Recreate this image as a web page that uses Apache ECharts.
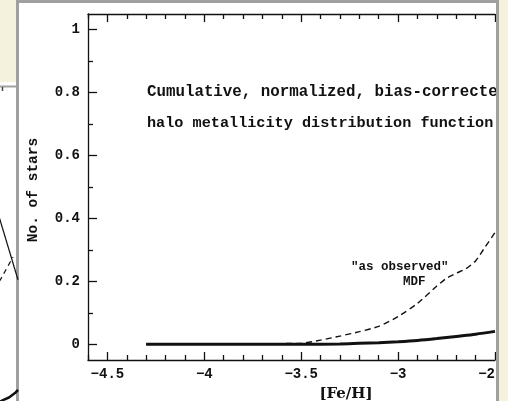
<!DOCTYPE html>
<html>
<head>
<meta charset="utf-8">
<script src="https://cdn.jsdelivr.net/npm/echarts@6/dist/echarts.min.js"></script>
<style>
  html, body { margin: 0; padding: 0; background: #f4f1dc; }
  #chart { width: 508px; height: 401px; }
</style>
</head>
<body>
<div id="chart"></div>
<script>
// Cumulative, normalized, bias-corrected halo MDF (thick solid curve)
const feHCorrected = [-4.3, -4.0, -3.7, -3.5, -3.3, -3.2, -3.1, -3.0, -2.9, -2.8, -2.7, -2.6, -2.5];
const cumCorrected = [0, 0, 0, 0, 0.001, 0.003, 0.005, 0.008, 0.012, 0.018, 0.025, 0.032, 0.041];

// "as observed" MDF (dashed curve)
const feHObserved = [-4.3, -3.5, -3.4, -3.3, -3.2, -3.1, -3.0, -2.9, -2.8, -2.75, -2.7, -2.65, -2.6, -2.55, -2.5];
const cumObserved = [0, 0.003, 0.013, 0.026, 0.04, 0.057, 0.088, 0.13, 0.185, 0.21, 0.226, 0.24, 0.265, 0.31, 0.355];

// Axis ticks
const xMajorTicks = [-4.5, -4, -3.5, -3, -2.5];
const xMinorTicks = [-4.6, -4.4, -4.3, -4.2, -4.1, -3.9, -3.8, -3.7, -3.6, -3.4, -3.3, -3.2, -3.1, -2.9, -2.8, -2.7, -2.6];
const yMajorTicks = [0, 0.2, 0.4, 0.6, 0.8, 1];
const yMinorTicks = [0.1, 0.3, 0.5, 0.7, 0.9];

// Edge of the neighbouring panel (arbitrary 0-100 units)
const sideSolidX = [78, 101];
const sideSolidY = [64.6, 40.7];
const sideDashX = [78, 96];
const sideDashY = [37.7, 47.8];
const sideLowX = [80, 86, 92, 98, 101];
const sideLowY = [2.2, 3.1, 3.9, 5.3, 6.3];

const pair = (xs, ys) => xs.map((x, i) => [x, ys[i]]);

const INK = '#111';
const BEIGE = '#f4f1dc';
const FRAME = '#a0a0a0';
const MONO = '"Liberation Mono", "DejaVu Sans Mono", monospace';

function fmtNum(v) {
  const r = Math.round(v * 10) / 10;
  return String(r).replace('-', '\u2212');
}

function xAxisDef(position, ticks, len, main) {
  return {
    type: 'value', gridIndex: 0, position: position,
    min: -4.6, max: -2.5,
    axisLine: { show: main, onZero: false, lineStyle: { color: INK, width: 1.3 } },
    axisTick: { show: true, inside: true, length: len, customValues: ticks,
                lineStyle: { color: INK, width: 1.3 } },
    axisLabel: (main && position === 'bottom')
      ? { show: true, customValues: xMajorTicks, formatter: fmtNum, margin: 7,
          color: INK, fontFamily: MONO, fontWeight: 'bold', fontSize: 14 }
      : { show: false },
    splitLine: { show: false }
  };
}

function yAxisDef(ticks, len, main) {
  return {
    type: 'value', gridIndex: 0, position: 'left',
    min: -0.05, max: 1.05,
    axisLine: { show: main, onZero: false, lineStyle: { color: INK, width: 1.3 } },
    axisTick: { show: true, inside: true, length: len, customValues: ticks,
                lineStyle: { color: INK, width: 1.3 } },
    axisLabel: main
      ? { show: true, customValues: yMajorTicks, formatter: fmtNum, margin: 8,
          color: INK, fontFamily: MONO, fontWeight: 'bold', fontSize: 14 }
      : { show: false },
    splitLine: { show: false }
  };
}

const chart = echarts.init(document.getElementById('chart'), null, { renderer: 'canvas' });

chart.setOption({
  backgroundColor: BEIGE,
  animation: false,
  grid: [
    { left: 88, top: 14, width: 407, height: 346, containLabel: false, outerBoundsMode: 'none' },
    { left: 0, top: 90, width: 17, height: 320, containLabel: false, outerBoundsMode: 'none' }
  ],
  xAxis: [
    xAxisDef('bottom', xMajorTicks, 8, true),
    xAxisDef('bottom', xMinorTicks, 5, false),
    xAxisDef('top', xMajorTicks, 8, true),
    xAxisDef('top', xMinorTicks, 5, false),
    { type: 'value', gridIndex: 1, min: 83, max: 100, show: false }
  ],
  yAxis: [
    yAxisDef(yMajorTicks, 9, true),
    yAxisDef(yMinorTicks, 5, false),
    { type: 'value', gridIndex: 1, min: 0, max: 100, show: false }
  ],
  series: [
    {
      type: 'line', xAxisIndex: 0, yAxisIndex: 0,
      data: pair(feHObserved, cumObserved),
      showSymbol: false, smooth: 0.2,
      lineStyle: { color: INK, width: 1.4, type: [6, 4] }
    },
    {
      type: 'line', xAxisIndex: 0, yAxisIndex: 0,
      data: pair(feHCorrected, cumCorrected),
      showSymbol: false, smooth: 0.3,
      lineStyle: { color: INK, width: 3 }
    },
    {
      type: 'line', xAxisIndex: 4, yAxisIndex: 2,
      data: pair(sideSolidX, sideSolidY), showSymbol: false,
      lineStyle: { color: INK, width: 1.2 }
    },
    {
      type: 'line', xAxisIndex: 4, yAxisIndex: 2,
      data: pair(sideDashX, sideDashY), showSymbol: false,
      lineStyle: { color: INK, width: 1.2, type: [5, 4] }
    },
    {
      type: 'line', xAxisIndex: 4, yAxisIndex: 2,
      data: pair(sideLowX, sideLowY), showSymbol: false,
      lineStyle: { color: INK, width: 2.5 }
    }
  ],
  graphic: [
    // neighbouring panel
    { type: 'rect', z: -10, shape: { x: 0, y: 82, width: 17, height: 330 }, style: { fill: '#fff' } },
    { type: 'line', z: -9, shape: { x1: 0, y1: 86.5, x2: 17, y2: 86.5 }, style: { stroke: FRAME, lineWidth: 2 } },
    { type: 'line', z: -9, shape: { x1: 2.5, y1: 87, x2: 2.5, y2: 91 }, style: { stroke: '#444', lineWidth: 1.5 } },
    // main panel
    { type: 'rect', z: -10, shape: { x: 17.5, y: 1.5, width: 480, height: 430 },
      style: { fill: '#fff', stroke: FRAME, lineWidth: 3 } },
    // annotations
    { type: 'text', z: 10, x: 147, y: 92,
      style: { text: 'Cumulative, normalized, bias-corrected', fill: INK,
               font: 'bold 15.8px ' + MONO, align: 'left', verticalAlign: 'middle',
               textAlign: 'left', textVerticalAlign: 'middle' } },
    { type: 'text', z: 10, x: 147, y: 123,
      style: { text: 'halo metallicity distribution function', fill: INK,
               font: 'bold 15.2px ' + MONO, align: 'left', verticalAlign: 'middle',
               textAlign: 'left', textVerticalAlign: 'middle' } },
    { type: 'text', z: 10, x: 351, y: 267,
      style: { text: '"as observed"', fill: INK,
               font: 'bold 12.5px ' + MONO, align: 'left', verticalAlign: 'middle',
               textAlign: 'left', textVerticalAlign: 'middle' } },
    { type: 'text', z: 10, x: 403, y: 282,
      style: { text: 'MDF', fill: INK,
               font: 'bold 12.5px ' + MONO, align: 'left', verticalAlign: 'middle',
               textAlign: 'left', textVerticalAlign: 'middle' } },
    // axis titles
    { type: 'text', z: 10, x: 346, y: 394,
      style: { text: '[Fe/H]', fill: INK,
               font: 'bold 15px "DejaVu Serif", serif', align: 'center', verticalAlign: 'middle',
               textAlign: 'center', textVerticalAlign: 'middle' } },
    { type: 'text', z: 10, x: 33.5, y: 190, rotation: Math.PI / 2,
      style: { text: 'No. of stars', fill: INK,
               font: 'bold 14.5px ' + MONO, align: 'center', verticalAlign: 'middle',
               textAlign: 'center', textVerticalAlign: 'middle' } },
    // right edge of the main panel
    { type: 'rect', z: 100, shape: { x: 499, y: 0, width: 9, height: 401 }, style: { fill: BEIGE } },
    { type: 'line', z: 100, shape: { x1: 497.5, y1: 0, x2: 497.5, y2: 401 }, style: { stroke: FRAME, lineWidth: 3 } }
  ]
});
</script>
</body>
</html>
